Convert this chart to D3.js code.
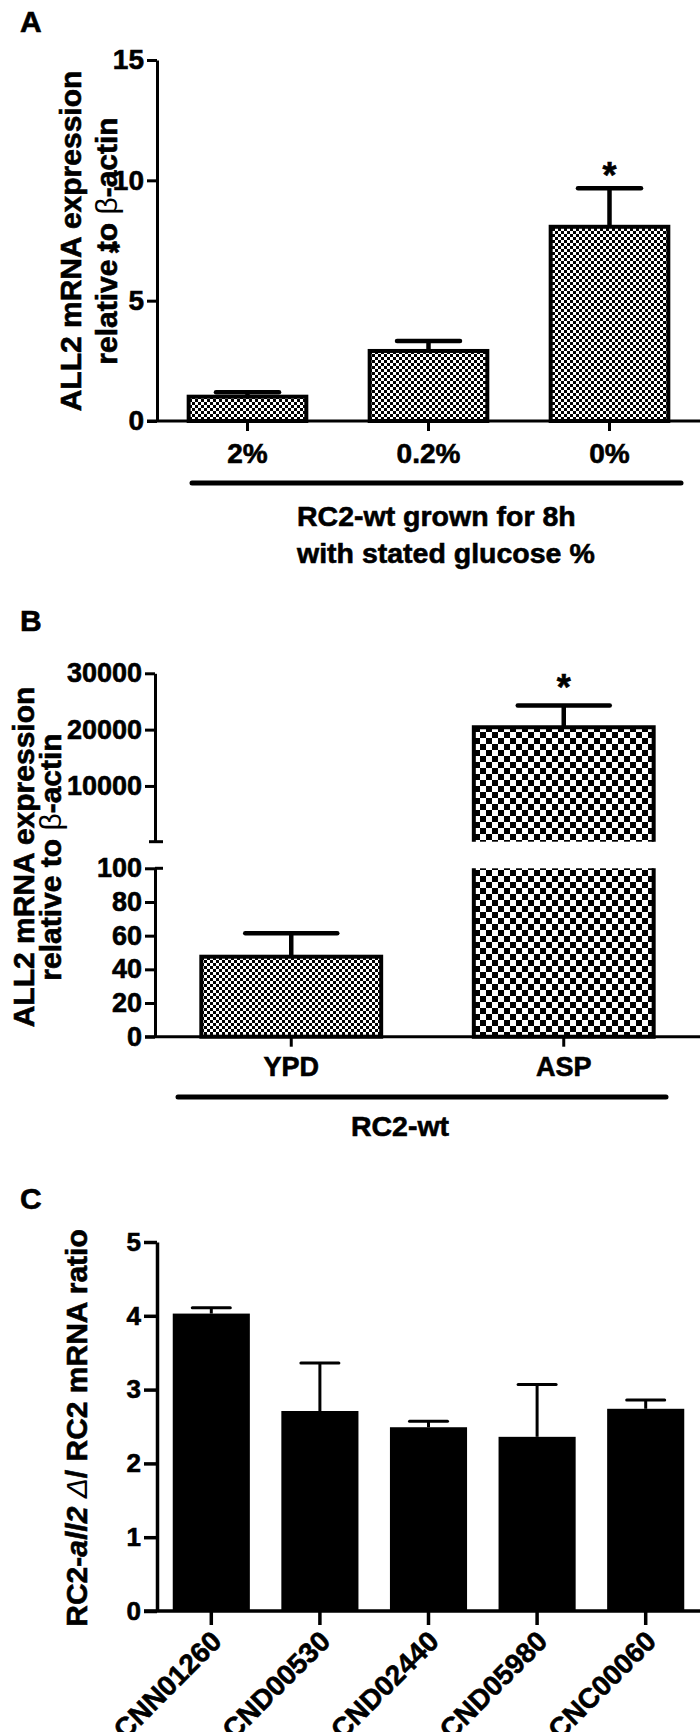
<!DOCTYPE html>
<html>
<head>
<meta charset="utf-8">
<script src="https://cdn.jsdelivr.net/npm/d3@7"></script>
<style>
  body { margin: 0; background: #fff; }
  svg text { font-family: "Liberation Sans", Arial, sans-serif; font-weight: bold; fill: #000; stroke: #000; stroke-width: 0.6px; }
</style>
</head>
<body>
<svg id="fig" width="700" height="1732"></svg>
<script>
// A: ALL2 expression vs glucose
const glucoseLabels = ['2%', '0.2%', '0%'];
const glucoseMeans = [1.01, 2.91, 8.07];
const glucoseErr = [0.18, 0.41, 1.6];
const glucoseStars = ['', '', '*'];
const glucoseTicks = [0, 5, 10, 15];

// B: ALL2 expression YPD vs ASP (broken axis)
const mediaLabels = ['YPD', 'ASP'];
const mediaMeans = [47.5, 20400];
const mediaErr = [14, 3900];
const mediaStars = ['', '*'];
const lowTicks = [0, 20, 40, 60, 80, 100];
const highTicks = [10000, 20000, 30000];

// C: all2 deletion / wt ratio
const geneLabels = ['CNN01260', 'CND00530', 'CND02440', 'CND05980', 'CNC00060'];
const geneRatios = [4.03, 2.71, 2.49, 2.36, 2.74];
const geneErr = [0.08, 0.65, 0.08, 0.71, 0.12];
const ratioTicks = [0, 1, 2, 3, 4, 5];

const FONT = '"Liberation Sans", Arial, sans-serif';
const svg = d3.select('#fig');
const defs = svg.append('defs');

const addChecker = (id, cell) => {
  const p = defs.append('pattern')
    .attr('id', id)
    .attr('patternUnits', 'userSpaceOnUse')
    .attr('width', cell * 2)
    .attr('height', cell * 2);
  p.append('rect').attr('width', cell * 2).attr('height', cell * 2).attr('fill', '#fff');
  p.append('rect').attr('width', cell).attr('height', cell).attr('fill', '#000');
  p.append('rect').attr('x', cell).attr('y', cell).attr('width', cell).attr('height', cell).attr('fill', '#000');
};
addChecker('fine', 3);
addChecker('coarse', 6);

const styleAxis = (g, size, width) => {
  g.attr('font-family', FONT).attr('font-size', size);
  g.selectAll('path.domain').attr('stroke-width', width);
  g.selectAll('.tick line').attr('stroke-width', width);
};

const panelLetter = (txt, y) => {
  svg.append('text').attr('x', 20).attr('y', y).attr('font-size', 30).text(txt);
};

// rotated y label, one text per line, tspans per piece
const yLabel = (x, y, lines, size, gap) => {
  const g = svg.append('g').attr('transform', `translate(${x},${y}) rotate(-90)`);
  lines.forEach((parts, i) => {
    const t = g.append('text')
      .attr('y', i * gap)
      .attr('text-anchor', 'middle')
      .attr('font-size', size);
    parts.forEach(p => {
      t.append('tspan')
        .attr('font-weight', p.w || 'bold')
        .attr('stroke-width', p.w ? 0 : null)
        .attr('font-style', p.i ? 'italic' : null)
        .text(p.t);
    });
  });
};

const errorBar = (g, cx, y0, y1, capW, width) => {
  g.append('line')
    .attr('x1', cx).attr('x2', cx).attr('y1', y0).attr('y2', y1)
    .attr('stroke', '#000').attr('stroke-width', width);
  g.append('line')
    .attr('x1', cx - capW / 2).attr('x2', cx + capW / 2).attr('y1', y1).attr('y2', y1)
    .attr('stroke', '#000').attr('stroke-width', width).attr('stroke-linecap', 'round');
};

const star = (cx, yCap, dy) => {
  svg.append('text')
    .attr('x', cx).attr('y', yCap - dy)
    .attr('text-anchor', 'middle')
    .attr('font-size', 36)
    .text('*');
};

const intFmt = d3.format('d');

// ---------------- Panel A ----------------
panelLetter('A', 32);
const xA = d3.scaleBand().domain(glucoseLabels).range([157, 700]).paddingInner(0.35).paddingOuter(0.175);
const yA = d3.scaleLinear().domain([0, 15]).range([421, 60]);
const gA = svg.append('g');

gA.selectAll('rect.bar')
  .data(glucoseMeans)
  .join('rect')
  .attr('class', 'bar')
  .attr('x', (d, i) => xA(glucoseLabels[i]))
  .attr('y', d => yA(d))
  .attr('width', xA.bandwidth())
  .attr('height', d => yA(0) - yA(d))
  .attr('fill', 'url(#fine)')
  .attr('stroke', '#000')
  .attr('stroke-width', 4);

glucoseMeans.forEach((d, i) => {
  const cx = xA(glucoseLabels[i]) + xA.bandwidth() / 2;
  errorBar(gA, cx, yA(d), yA(d + glucoseErr[i]), 63, 4.5);
  if (glucoseStars[i]) star(cx, yA(d + glucoseErr[i]), 0);
});

gA.append('g')
  .attr('transform', 'translate(157,0)')
  .call(d3.axisLeft(yA).tickValues(glucoseTicks).tickFormat(intFmt).tickSize(10).tickSizeOuter(0).tickPadding(3))
  .call(g => styleAxis(g, 28, 3));

gA.append('g')
  .attr('transform', `translate(0,${yA(0)})`)
  .call(d3.axisBottom(xA).tickSize(10).tickSizeOuter(0).tickPadding(12))
  .call(g => styleAxis(g, 28, 3))
  .call(g => g.select('path.domain').remove());
gA.append('line')
  .attr('x1', 147).attr('x2', 700).attr('y1', yA(0)).attr('y2', yA(0))
  .attr('stroke', '#000').attr('stroke-width', 3);

gA.append('line')
  .attr('x1', 192).attr('x2', 681).attr('y1', 483).attr('y2', 483)
  .attr('stroke', '#000').attr('stroke-width', 5).attr('stroke-linecap', 'round');
gA.append('text').attr('x', 297).attr('y', 526).attr('font-size', 28.5).text('RC2-wt grown for 8h');
gA.append('text').attr('x', 297).attr('y', 563).attr('font-size', 28.5).text('with stated glucose %');

yLabel(80.5, 241, [
  [{t: 'ALL2 mRNA expression'}],
  [{t: 'relative to '}, {t: 'β', w: 'normal'}, {t: '-actin'}]
], 30, 36.5);
// stray asterisk sitting on the label in the original
svg.append('text').attr('x', 114).attr('y', 262).attr('text-anchor', 'middle').attr('font-size', 30).text('*');

// ---------------- Panel B ----------------
panelLetter('B', 631);
const xB = d3.scaleBand().domain(mediaLabels).range([155, 700]).paddingInner(0.34).paddingOuter(0.17);
const yLow = d3.scaleLinear().domain([0, 100]).range([1036.7, 868.3]);
const yHigh = d3.scaleLinear().domain([100, 30000]).range([841.7, 673.3]);
const gB = svg.append('g');

mediaMeans.forEach((d, i) => {
  const x0 = xB(mediaLabels[i]);
  const x1 = x0 + xB.bandwidth();
  const cx = x0 + xB.bandwidth() / 2;
  const fill = i === 0 ? 'url(#fine)' : 'url(#coarse)';
  if (d <= 100) {
    gB.append('rect')
      .attr('x', x0).attr('y', yLow(d))
      .attr('width', xB.bandwidth()).attr('height', yLow(0) - yLow(d))
      .attr('fill', fill).attr('stroke', '#000').attr('stroke-width', 4);
    errorBar(gB, cx, yLow(d), yLow(d + mediaErr[i]), 92, 4.5);
  } else {
    // lower segment: full to 100, open top
    gB.append('rect')
      .attr('x', x0).attr('y', yLow(100))
      .attr('width', xB.bandwidth()).attr('height', yLow(0) - yLow(100))
      .attr('fill', fill);
    gB.append('path')
      .attr('d', `M${x0},${yLow(100)}V${yLow(0)}H${x1}V${yLow(100)}`)
      .attr('fill', 'none').attr('stroke', '#000').attr('stroke-width', 4);
    // upper segment: from 100 to the mean, open bottom
    gB.append('rect')
      .attr('x', x0).attr('y', yHigh(d))
      .attr('width', xB.bandwidth()).attr('height', yHigh(100) - yHigh(d))
      .attr('fill', fill);
    gB.append('path')
      .attr('d', `M${x0},${yHigh(100)}V${yHigh(d)}H${x1}V${yHigh(100)}`)
      .attr('fill', 'none').attr('stroke', '#000').attr('stroke-width', 4);
    errorBar(gB, cx, yHigh(d), yHigh(d + mediaErr[i]), 92, 4.5);
    if (mediaStars[i]) star(cx, yHigh(d + mediaErr[i]), 5);
  }
});

gB.append('g')
  .attr('transform', 'translate(155,0)')
  .call(d3.axisLeft(yLow).tickValues(lowTicks).tickFormat(intFmt).tickSize(10).tickSizeOuter(0).tickPadding(3))
  .call(g => styleAxis(g, 27, 3));
gB.append('g')
  .attr('transform', 'translate(155,0)')
  .call(d3.axisLeft(yHigh).tickValues(highTicks).tickFormat(intFmt).tickSize(10).tickSizeOuter(0).tickPadding(3))
  .call(g => styleAxis(g, 27, 3));
// break caps
[[yHigh(100), 149], [yLow(100), 155]].forEach(([y, xs]) => {
  gB.append('line')
    .attr('x1', xs).attr('x2', 163).attr('y1', y).attr('y2', y)
    .attr('stroke', '#000').attr('stroke-width', 3);
});

gB.append('g')
  .attr('transform', `translate(0,${yLow(0)})`)
  .call(d3.axisBottom(xB).tickSize(10).tickSizeOuter(0).tickPadding(10))
  .call(g => styleAxis(g, 27, 3))
  .call(g => g.select('path.domain').remove());
gB.append('line')
  .attr('x1', 145).attr('x2', 700).attr('y1', yLow(0)).attr('y2', yLow(0))
  .attr('stroke', '#000').attr('stroke-width', 3);

gB.append('line')
  .attr('x1', 178).attr('x2', 666).attr('y1', 1097).attr('y2', 1097)
  .attr('stroke', '#000').attr('stroke-width', 5).attr('stroke-linecap', 'round');
gB.append('text').attr('x', 400).attr('y', 1136).attr('text-anchor', 'middle').attr('font-size', 28.5).text('RC2-wt');

yLabel(33.5, 857, [
  [{t: 'ALL2 mRNA expression'}],
  [{t: 'relative to '}, {t: 'β', w: 'normal'}, {t: '-actin'}]
], 30, 27);

// ---------------- Panel C ----------------
panelLetter('C', 1209);
const xC = d3.scaleBand().domain(geneLabels).range([157, 700]).paddingInner(0.29).paddingOuter(0.145);
const yC = d3.scaleLinear().domain([0, 5]).range([1611, 1242]);
const gC = svg.append('g');

gC.selectAll('rect.bar')
  .data(geneRatios)
  .join('rect')
  .attr('class', 'bar')
  .attr('x', (d, i) => xC(geneLabels[i]))
  .attr('y', d => yC(d))
  .attr('width', xC.bandwidth())
  .attr('height', d => yC(0) - yC(d))
  .attr('fill', '#000');

geneRatios.forEach((d, i) => {
  const cx = xC(geneLabels[i]) + xC.bandwidth() / 2;
  errorBar(gC, cx, yC(d), yC(d + geneErr[i]), 38, 3);
});

gC.append('g')
  .attr('transform', 'translate(157,0)')
  .call(d3.axisLeft(yC).tickValues(ratioTicks).tickFormat(intFmt).tickSize(13).tickSizeOuter(0).tickPadding(3))
  .call(g => styleAxis(g, 26, 3.5));

gC.append('g')
  .attr('transform', `translate(0,${yC(0)})`)
  .call(d3.axisBottom(xC).tickSize(14).tickSizeOuter(0))
  .call(g => styleAxis(g, 28, 3.5))
  .call(g => g.select('path.domain').remove())
  .call(g => g.selectAll('.tick text')
    .attr('text-anchor', 'end')
    .attr('dy', null)
    .attr('y', null)
    .attr('transform', 'translate(12,32) rotate(-45)'));
gC.append('line')
  .attr('x1', 144).attr('x2', 700).attr('y1', yC(0)).attr('y2', yC(0))
  .attr('stroke', '#000').attr('stroke-width', 3.5);

yLabel(87, 1428, [
  [{t: 'RC2-'}, {t: 'all2', i: true}, {t: ' '}, {t: 'Δ', w: 'normal', i: true}, {t: '/ RC2 mRNA ratio'}]
], 30, 0);
</script>
</body>
</html>
